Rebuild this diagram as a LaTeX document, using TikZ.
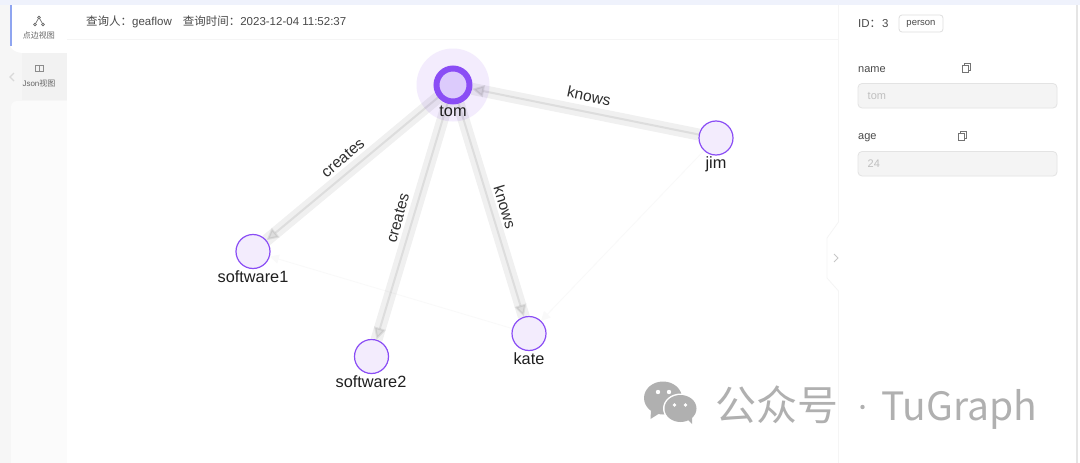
\documentclass[tikz,border=0pt]{standalone}
\usepackage{fontspec}
\setmainfont{Liberation Sans}
\newfontfamily\cjk{Noto Sans CJK SC}
\usetikzlibrary{arrows.meta}
\definecolor{purp}{HTML}{8A4DF5}
\definecolor{nodefill}{HTML}{F3ECFD}
\definecolor{focusfill}{HTML}{DCCBFC}
\definecolor{txt}{HTML}{4A4A4A}
\definecolor{wm}{HTML}{B0B0B0}
\definecolor{topstrip}{HTML}{EFF2FC}
\definecolor{tabline}{HTML}{8FA5F0}
\tikzset{
  vert/.style={circle,draw=purp,line width=1.2pt,fill=nodefill,minimum size=34pt,inner sep=0pt,outer sep=0.6pt},
  focus/.style={circle,draw=purp,line width=6pt,fill=focusfill,minimum size=33pt,inner sep=0pt,outer sep=3pt},
  vlabel/.style={font=\fontsize{16.3}{18}\selectfont,text=black!88,inner sep=0pt},
  elabel/.style={font=\fontsize{15.5}{18}\selectfont,text=black!82,inner sep=0pt},
  band/.style={line width=12pt,black,opacity=.06},
  core/.style={line width=2pt,black,draw opacity=.08,fill opacity=.08,-{Triangle[length=12pt,width=12pt]}},
  faint/.style={line width=.8pt,black!2.5,-{Triangle[length=9pt,width=9pt]}},
  ui/.style={font=\fontsize{11.5}{14}\selectfont,text=txt,inner sep=0pt,anchor=west},
  side/.style={font=\fontsize{8}{10}\selectfont,text=black!60,inner sep=0pt},
  inbox/.style={draw=black!11,fill=black!4.5,line width=.8pt,rounded corners=4pt},
  ico/.style={draw=black!55,line width=.7pt},
  wmtext/.style={text=wm,inner sep=0pt}
}
\begin{document}
\begin{tikzpicture}[x=1pt,y=-1pt]
\useasboundingbox (0,0) rectangle (1080,463);
% page frame
\fill[white] (0,0) rectangle (1080,463);
\fill[black!3.5] (0,5) rectangle (67,463);
\fill[white] (67,5) rectangle (838,463);
\fill[black!1.5,rounded corners=6pt] (11,101) rectangle (80,480);
\fill[white] (67,40) rectangle (838,463);
\fill[white] (10,5) -- (67,5) -- (67,53) -- (22,53) .. controls (14,52) and (11,49) .. (10,45) -- cycle;
\fill[black!5] (22,53) rectangle (67,100);
\fill[tabline] (10,5) rectangle (11.5,46);
\fill[topstrip] (0,0) rectangle (1080,5);
\draw[black!4,line width=.8pt] (67,39.5) -- (838,39.5);
\fill[black!10] (1076,5) rectangle (1077.5,463);
% collapse handle and panel edge
\draw[black!4,line width=.8pt,fill=white] (838.5,5) -- (838.5,222) -- (827,238) -- (827,278) -- (838.5,291) -- (838.5,463);
\draw[black!22,line width=1pt] (834,254) -- (838,258) -- (834,262);
% sidebar
\draw[black!15,line width=1.4pt] (14,73) -- (10,77) -- (14,81);
\node[draw=black!60,circle,line width=.7pt,inner sep=0pt,minimum size=2.6pt] (ia) at (39,17.5) {};
\node[draw=black!60,circle,line width=.7pt,inner sep=0pt,minimum size=2.6pt] (ib) at (35,24.5) {};
\node[draw=black!60,circle,line width=.7pt,inner sep=0pt,minimum size=2.6pt] (ic) at (43,24.5) {};
\draw[ico] (ia) -- (ib) (ia) -- (ic);
\node[side] (t1) at (39,35) {\cjk 点边视图};
\draw[ico,black!45] (35,65.5) rectangle (43.5,71.5) (39.2,65.5) -- (39.2,71.5);
\node[side] (t2) at (39,83) {Json{\cjk 视图}};
% header
\node[ui] (hd) at (86,22) {{\cjk 查询人：}geaflow\hspace{11pt}{\cjk 查询时间：}2023-12-04 11:52:37};
% detail panel
\node[ui] (idt) at (858,23.5) {ID{\cjk ：}\hspace{1pt}3};
\node[draw=black!13,fill=white,rounded corners=3pt,line width=.8pt,minimum width=44pt,minimum height=17pt,inner sep=0pt,font=\fontsize{9.5}{11}\selectfont,text=txt] (tag) at (921,23.5) {person};
\node[ui,font=\fontsize{11}{13}\selectfont] (nm) at (858,69.5) {name};
\draw[ico] (962.5,65) rectangle (968.5,72) (964.5,65) -- (964.5,63.5) -- (970.5,63.5) -- (970.5,70) -- (968.5,70);
\node[ui,font=\fontsize{11}{13}\selectfont] (ag) at (858,138) {age};
\draw[ico] (958.5,133) rectangle (964.5,140) (960.5,133) -- (960.5,131.5) -- (966.5,131.5) -- (966.5,138) -- (964.5,138);
\draw[inbox] (858,83.5) rectangle (1057,108);
\draw[inbox] (858,151.5) rectangle (1057,176);
\node[ui,text=black!25,font=\fontsize{11}{13}\selectfont] (nv) at (867.5,96) {tom};
\node[ui,text=black!25,font=\fontsize{11}{13}\selectfont] (av) at (867.5,164) {24};
% graph
\node[circle,fill=nodefill,minimum size=73pt,inner sep=0pt] (halo) at (453,85) {};
\node[focus] (tom) at (453,85) {};
\node[vert] (jim) at (716,138) {};
\node[vert] (s1) at (253,251.5) {};
\node[vert] (s2) at (371.5,356.5) {};
\node[vert] (kate) at (529,333.5) {};
\draw[faint] (jim) -- (kate);
\draw[faint] (kate) -- (s1);
\draw[band] (jim) -- (tom);
\draw[core] (jim) -- (tom);
\draw[band] (tom) -- (s1);
\draw[core] (tom) -- (s1);
\draw[band] (tom) -- (s2);
\draw[core] (tom) -- (s2);
\draw[band] (tom) -- (kate);
\draw[core] (tom) -- (kate);
\node[vlabel] (ltom) at (453,111) {tom};
\node[vlabel] (ljim) at (716,164) {jim};
\node[vlabel] (ls1) at (253,277) {software1};
\node[vlabel] (ls2) at (371,381.5) {software2};
\node[vlabel] (lkate) at (529,358.5) {kate};
\node[elabel,rotate=-12] (e1) at (589,96) {knows};
\node[elabel,rotate=40] (e2) at (343,158) {creates};
\node[elabel,rotate=75] (e3) at (398,218) {creates};
\node[elabel,rotate=-73] (e4) at (505,207) {knows};
% watermark
\fill[wm] (663,398) ellipse[x radius=19,y radius=16.5];
\fill[wm] (651,410) -- (650.5,419) -- (660,413) -- cycle;
\fill[white] (680.5,408.5) ellipse[x radius=17.5,y radius=15];
\fill[wm] (680.5,408.5) ellipse[x radius=16,y radius=13.5];
\fill[wm] (686,418) -- (692,424) -- (692,415) -- cycle;
\fill[white] (658,392) circle[radius=2.2] (669,392) circle[radius=2.2] (674.5,405) circle[radius=1.8] (685.5,405) circle[radius=1.8];
\node[wmtext,anchor=base west,font=\cjk\fontsize{41}{44}\selectfont] (w1) at (715,420) {公众号};
\fill[wm] (862.5,407) circle[radius=2.2];
\node[wmtext,anchor=base west,font=\cjk\fontsize{39}{44}\selectfont] (w2) at (881,420) {TuGraph};
\end{tikzpicture}
\end{document}
